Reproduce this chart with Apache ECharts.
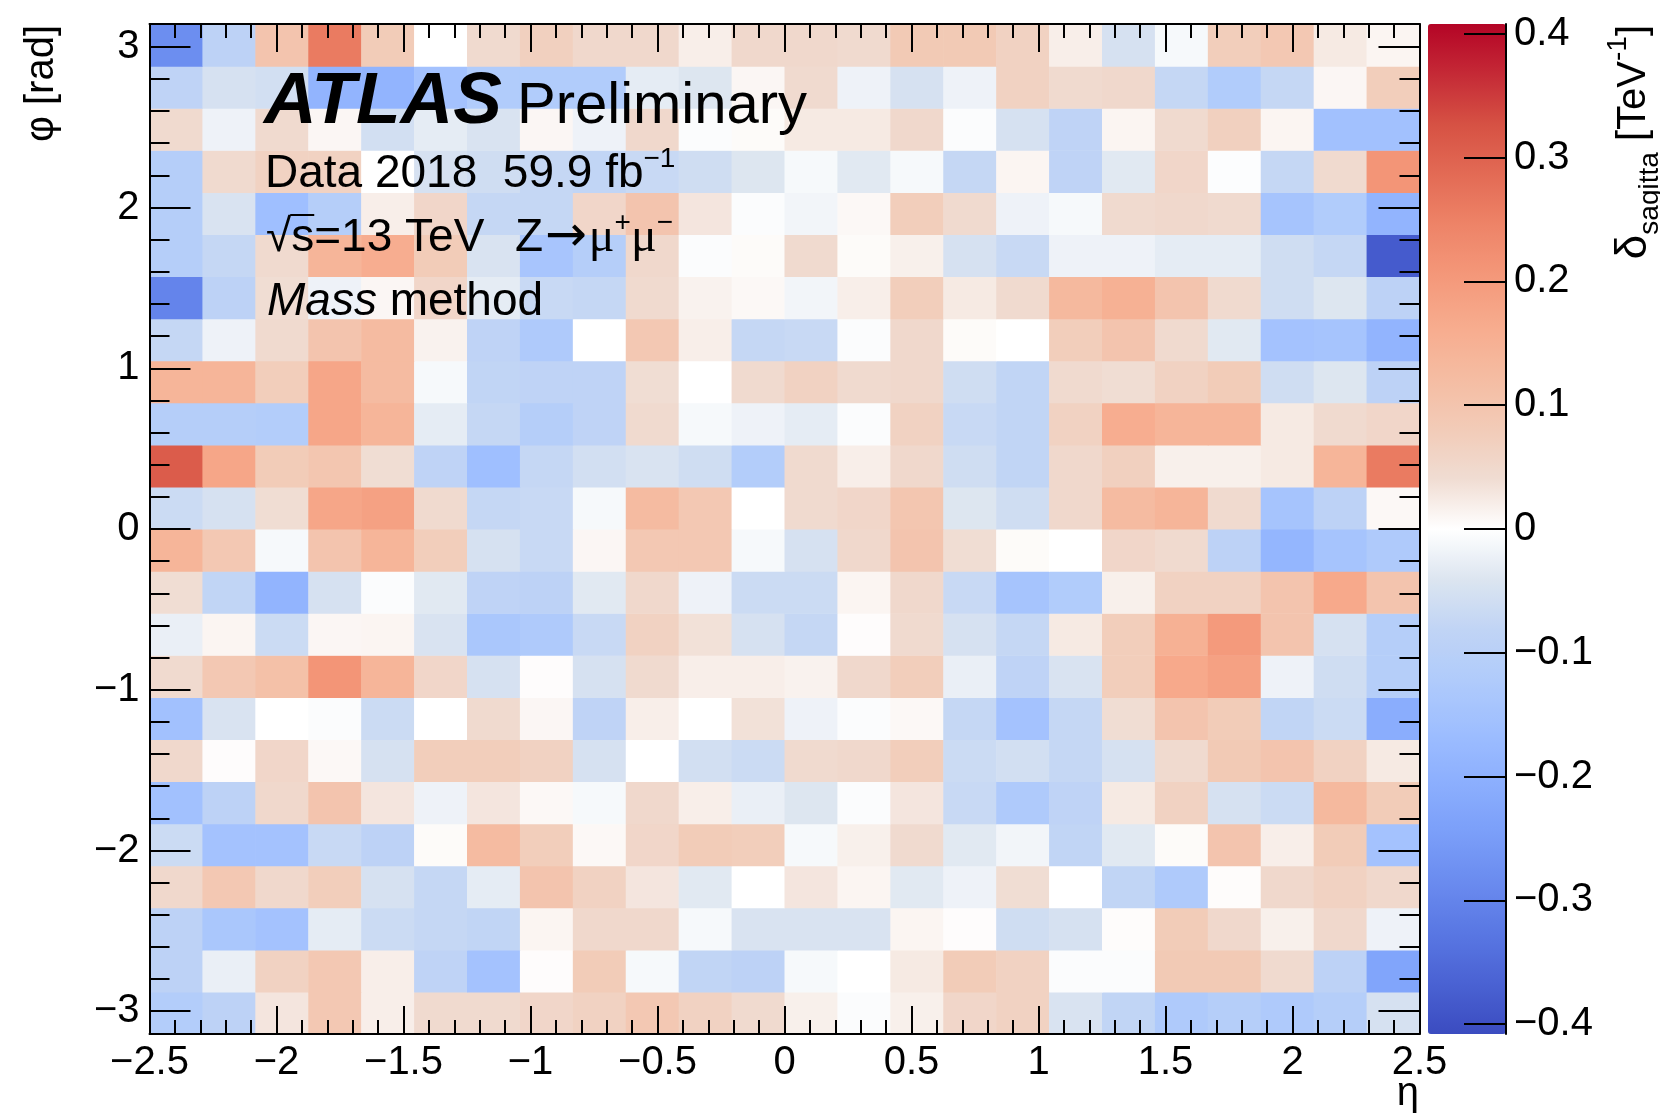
<!DOCTYPE html>
<html>
<head>
<meta charset="utf-8">
<title>Sagitta bias map, Z→μμ mass method</title>
<script src="https://cdn.jsdelivr.net/npm/echarts@6/dist/echarts.min.js"></script>
<style>
  html, body { margin: 0; padding: 0; background: #ffffff; }
  #chart { width: 1660px; height: 1115px; }
</style>
</head>
<body>
<div id="chart"></div>
<script>
// ---------------------------------------------------------------------------
// Binning: 24 bins in eta over [-2.5, 2.5], 24 bins in phi over [-pi, pi]
// ---------------------------------------------------------------------------
const ETA_MIN = -2.5;
const ETA_MAX = 2.5;
const N_ETA = 24;
const PHI_MIN = -Math.PI;
const PHI_MAX = Math.PI;
const N_PHI = 24;

// Colour scale range of delta_sagitta [TeV^-1]
const Z_MIN = -0.408;
const Z_MAX = 0.408;

// Tick values
const phiTickValues = [-3, -2, -1, 0, 1, 2, 3];
const zTickValues = [-0.4, -0.3, -0.2, -0.1, 0, 0.1, 0.2, 0.3, 0.4];

// delta_sagitta per (eta, phi) bin, one array per phi bin, eta bins from -2.5 to 2.5
const phiBin23 = [-0.28, -0.09, 0.10, 0.26, 0.08, 0.0, 0.045, 0.07, 0.05, 0.05, 0.02, 0.05, 0.05, 0.045, 0.085, 0.085, 0.065, 0.02, -0.05, -0.01, 0.075, 0.09, 0.025, 0.012];
const phiBin22 = [-0.085, -0.05, -0.055, -0.19, -0.19, -0.15, -0.12, -0.12, -0.12, -0.03, -0.04, 0.01, 0.045, -0.02, -0.05, -0.02, 0.065, 0.045, 0.05, -0.075, -0.12, -0.075, 0.01, 0.075];
const phiBin21 = [0.045, -0.02, 0.045, 0.01, -0.055, -0.03, -0.045, 0.01, -0.02, 0.05, -0.005, 0.005, 0.025, 0.025, 0.05, -0.005, -0.05, -0.085, 0.012, 0.045, 0.07, 0.012, -0.155, -0.155];
const phiBin20 = [-0.11, 0.045, 0.065, 0.065, 0.0, -0.05, -0.06, -0.075, -0.08, -0.07, -0.06, -0.04, -0.01, -0.035, -0.01, -0.075, 0.012, -0.085, -0.035, 0.055, -0.003, -0.075, 0.045, 0.21];
const phiBin19 = [-0.11, -0.045, -0.16, -0.11, 0.02, 0.055, -0.075, -0.075, 0.055, 0.1, 0.03, -0.005, -0.015, 0.008, 0.075, 0.045, -0.02, -0.01, 0.045, 0.05, 0.045, -0.145, -0.12, -0.19];
const phiBin18 = [-0.11, -0.075, 0.045, 0.14, 0.16, 0.08, -0.045, -0.14, -0.11, 0.05, -0.005, 0.005, 0.045, 0.005, 0.018, -0.05, -0.07, -0.02, -0.02, -0.03, -0.03, -0.06, -0.075, -0.38];
const phiBin17 = [-0.3, -0.09, 0.04, -0.02, 0.01, 0.055, -0.03, -0.07, -0.075, 0.045, 0.015, 0.008, -0.015, 0.02, 0.075, 0.025, 0.045, 0.13, 0.15, 0.1, 0.045, -0.06, -0.04, -0.09];
const phiBin16 = [-0.075, -0.02, 0.045, 0.1, 0.125, 0.015, -0.085, -0.125, 0.0, 0.09, 0.02, -0.075, -0.07, -0.005, 0.05, 0.005, 0.0, 0.075, 0.1, 0.045, -0.035, -0.15, -0.145, -0.19];
const phiBin15 = [0.14, 0.14, 0.075, 0.175, 0.125, -0.01, -0.08, -0.085, -0.085, 0.04, 0.0, 0.045, 0.065, 0.045, 0.05, -0.06, -0.08, 0.045, 0.04, 0.065, 0.08, -0.06, -0.04, -0.09];
const phiBin14 = [-0.11, -0.11, -0.115, 0.175, 0.14, -0.03, -0.075, -0.11, -0.085, 0.045, -0.01, -0.02, -0.03, -0.005, 0.065, -0.07, -0.08, 0.065, 0.16, 0.14, 0.14, 0.025, 0.045, 0.055];
const phiBin13 = [0.31, 0.175, 0.08, 0.095, 0.04, -0.085, -0.16, -0.075, -0.055, -0.045, -0.06, -0.115, 0.045, 0.02, 0.05, -0.06, -0.08, 0.05, 0.07, 0.018, 0.018, 0.025, 0.14, 0.26];
const phiBin12 = [-0.065, -0.05, 0.04, 0.175, 0.185, 0.045, -0.075, -0.07, -0.01, 0.125, 0.09, 0.0, 0.045, 0.055, 0.095, -0.04, -0.06, 0.05, 0.125, 0.14, 0.045, -0.145, -0.09, 0.008];
const phiBin11 = [0.14, 0.09, -0.01, 0.1, 0.14, 0.075, -0.05, -0.07, 0.01, 0.09, 0.09, -0.01, -0.05, 0.05, 0.1, 0.04, 0.005, 0.0, 0.055, 0.045, -0.09, -0.185, -0.145, -0.125];
const phiBin10 = [0.04, -0.08, -0.19, -0.05, -0.005, -0.035, -0.085, -0.09, -0.035, 0.05, -0.02, -0.065, -0.065, 0.012, 0.05, -0.07, -0.145, -0.12, 0.018, 0.065, 0.065, 0.1, 0.17, 0.1];
const phiBin09 = [-0.025, 0.012, -0.065, 0.01, 0.012, -0.045, -0.135, -0.125, -0.07, 0.065, 0.035, -0.05, -0.075, 0.003, 0.045, -0.05, -0.075, 0.025, 0.075, 0.15, 0.2, 0.1, -0.05, -0.11];
const phiBin08 = [0.045, 0.09, 0.11, 0.21, 0.14, 0.055, -0.05, 0.003, -0.05, 0.045, 0.02, 0.02, 0.015, 0.05, 0.075, -0.025, -0.085, -0.045, 0.075, 0.17, 0.185, -0.02, -0.06, -0.11];
const phiBin07 = [-0.155, -0.045, 0.0, -0.005, -0.065, 0.0, 0.045, 0.01, -0.085, 0.02, 0.0, 0.035, -0.02, -0.005, 0.008, -0.075, -0.15, -0.075, 0.04, 0.1, 0.08, -0.08, -0.065, -0.21];
const phiBin06 = [0.05, 0.003, 0.055, 0.008, -0.05, 0.075, 0.075, 0.065, -0.05, 0.0, -0.055, -0.065, 0.045, 0.05, 0.075, -0.065, -0.055, -0.075, -0.05, 0.045, 0.085, 0.1, 0.065, 0.025];
const phiBin05 = [-0.155, -0.09, 0.05, 0.1, 0.03, -0.02, 0.03, 0.008, -0.01, 0.05, 0.02, -0.025, -0.04, -0.005, 0.03, -0.07, -0.125, -0.085, 0.025, 0.065, -0.05, -0.065, 0.13, 0.08];
const phiBin04 = [-0.065, -0.15, -0.15, -0.07, -0.09, 0.005, 0.125, 0.075, 0.008, 0.055, 0.08, 0.075, -0.01, 0.018, 0.045, -0.035, -0.015, -0.08, -0.035, 0.005, 0.1, 0.02, 0.08, -0.15];
const phiBin03 = [0.05, 0.09, 0.05, 0.075, -0.05, -0.075, -0.03, 0.1, 0.065, 0.03, -0.035, 0.0, 0.03, 0.012, -0.035, -0.02, 0.04, 0.0, -0.08, -0.125, 0.004, 0.05, 0.065, 0.05];
const phiBin02 = [-0.09, -0.135, -0.15, -0.03, -0.065, -0.075, -0.08, 0.012, 0.05, 0.05, -0.01, -0.045, -0.045, -0.045, 0.012, 0.003, -0.06, -0.05, 0.004, 0.08, 0.05, 0.018, 0.05, -0.02];
const phiBin01 = [-0.09, -0.025, 0.065, 0.09, 0.02, -0.085, -0.15, 0.003, 0.08, -0.01, -0.08, -0.09, -0.01, 0.0, 0.025, 0.08, 0.065, -0.005, -0.005, 0.085, 0.085, 0.045, -0.09, -0.23];
const phiBin00 = [-0.115, -0.09, 0.03, 0.09, 0.02, 0.045, 0.045, 0.055, 0.065, 0.09, 0.065, 0.045, 0.018, -0.005, 0.018, 0.055, 0.065, -0.045, -0.08, -0.125, -0.11, -0.125, -0.11, -0.05];

// phi bins ordered from -pi upwards
const phiBins = [phiBin00, phiBin01, phiBin02, phiBin03, phiBin04, phiBin05, phiBin06, phiBin07,
                 phiBin08, phiBin09, phiBin10, phiBin11, phiBin12, phiBin13, phiBin14, phiBin15,
                 phiBin16, phiBin17, phiBin18, phiBin19, phiBin20, phiBin21, phiBin22, phiBin23];

// Diverging palette: blue -> white at zero -> red, evenly spaced over [Z_MIN, Z_MAX]
const PALETTE = [
  '#3b4cc0', '#4a62d3', '#5977e3', '#6a8bef', '#7b9ff9', '#8caffe', '#9ebeff',
  '#b0cbfb', '#c0d4f5', '#dce5f0', '#ffffff', '#f0dcd2', '#f2cbb7', '#f5bca2',
  '#f7ac8e', '#f4987a', '#ee8468', '#e36b55', '#d65244', '#c52a36', '#b40426'
];

// ---------------------------------------------------------------------------
// Cells: [etaLow, etaHigh, phiLow, phiHigh, value]
// ---------------------------------------------------------------------------
const etaStep = (ETA_MAX - ETA_MIN) / N_ETA;
const phiStep = (PHI_MAX - PHI_MIN) / N_PHI;
const cells = [];
phiBins.forEach((row, j) => {
  row.forEach((v, i) => {
    cells.push([ETA_MIN + i * etaStep, ETA_MIN + (i + 1) * etaStep,
                PHI_MIN + j * phiStep, PHI_MIN + (j + 1) * phiStep, v]);
  });
});

// ---------------------------------------------------------------------------
// Layout and styling
// ---------------------------------------------------------------------------
const FONT = '"Liberation Sans", Arial, Helvetica, sans-serif';
const PLOT = { left: 149.5, top: 24, width: 1270, height: 1010 };
const CBAR = { left: 1428, top: 24, width: 78, height: 1010 };

const lineStyle = { color: '#000', width: 2 };
const fmtNum = v => String(+Number(v).toFixed(3)).replace('-', '\u2212');

// minor phi ticks every 0.2 rad
const phiMinorTicks = [];
for (let k = -15; k <= 15; k++) {
  if (k % 5 !== 0) phiMinorTicks.push(+(k * 0.2).toFixed(1));
}

const labelStyle = { fontSize: 40, color: '#000', fontFamily: FONT };

function etaAxis(position, showLabel) {
  return {
    gridIndex: 0, type: 'value', position: position, min: ETA_MIN, max: ETA_MAX, interval: 0.5, z: 10,
    axisLine: { show: true, onZero: false, lineStyle: lineStyle },
    axisTick: { show: true, inside: true, length: 28, lineStyle: lineStyle },
    minorTick: { show: true, splitNumber: 5, length: 14, lineStyle: lineStyle },
    axisLabel: Object.assign({ show: showLabel, margin: 9, formatter: fmtNum }, labelStyle),
    splitLine: { show: false }, minorSplitLine: { show: false }
  };
}
function phiAxis(position, showLabel) {
  return {
    gridIndex: 0, type: 'value', position: position, min: PHI_MIN, max: PHI_MAX, z: 10,
    axisLine: { show: true, onZero: false, lineStyle: lineStyle },
    axisTick: { show: true, inside: true, length: 41, lineStyle: lineStyle, customValues: phiTickValues },
    axisLabel: Object.assign({ show: showLabel, margin: 10, padding: [6, 0, 0, 0], formatter: fmtNum,
                               customValues: phiTickValues }, labelStyle),
    splitLine: { show: false }
  };
}
function phiMinorAxis(position) {
  return {
    gridIndex: 0, type: 'value', position: position, min: PHI_MIN, max: PHI_MAX, z: 10,
    axisLine: { show: false, onZero: false },
    axisTick: { show: true, inside: true, length: 20, lineStyle: lineStyle, customValues: phiMinorTicks },
    axisLabel: { show: false },
    splitLine: { show: false }
  };
}

// text measuring for the radical bar over "s"
const measureCtx = document.createElement('canvas').getContext('2d');
function textWidth(str, font) { measureCtx.font = font; return measureCtx.measureText(str).width; }
const SQRT_X = 266;
const sqrtW = textWidth('\u221A', '46px ' + FONT);
const sW = textWidth('s', '46px ' + FONT);

const chart = echarts.init(document.getElementById('chart'), null, { renderer: 'canvas' });

chart.setOption({
  animation: false,
  backgroundColor: '#ffffff',
  grid: [
    { left: PLOT.left, top: PLOT.top, width: PLOT.width, height: PLOT.height, show: false },
    { left: CBAR.left, top: CBAR.top, width: CBAR.width, height: CBAR.height, show: false }
  ],
  xAxis: [
    etaAxis('bottom', true),
    etaAxis('top', false),
    { gridIndex: 1, type: 'value', min: 0, max: 1, show: false }
  ],
  yAxis: [
    phiAxis('left', true),
    phiAxis('right', false),
    phiMinorAxis('left'),
    phiMinorAxis('right'),
    {
      gridIndex: 1, type: 'value', position: 'right', min: Z_MIN, max: Z_MAX, z: 10,
      axisLine: { show: true, onZero: false, lineStyle: lineStyle },
      axisTick: { show: true, inside: true, length: 42, lineStyle: lineStyle, customValues: zTickValues },
      axisLabel: Object.assign({ show: true, margin: 8, padding: [6, 0, 0, 0], formatter: fmtNum,
                                 customValues: zTickValues }, labelStyle),
      splitLine: { show: false }
    }
  ],
  visualMap: {
    type: 'continuous',
    show: true,
    seriesIndex: 0,
    dimension: 4,
    min: Z_MIN,
    max: Z_MAX,
    orient: 'vertical',
    left: CBAR.left,
    top: CBAR.top,
    itemWidth: CBAR.width,
    itemHeight: CBAR.height,
    calculable: false,
    hoverLink: false,
    padding: 0,
    inRange: { color: PALETTE }
  },
  series: [{
    type: 'custom',
    xAxisIndex: 0,
    yAxisIndex: 0,
    z: 1,
    clip: true,
    encode: { x: [0, 1], y: [2, 3] },
    data: cells,
    renderItem: function (params, api) {
      const p0 = api.coord([api.value(0), api.value(3)]);
      const p1 = api.coord([api.value(1), api.value(2)]);
      return {
        type: 'rect',
        shape: { x: p0[0], y: p0[1], width: p1[0] - p0[0] + 0.6, height: p1[1] - p0[1] + 0.6 },
        style: { fill: api.visual('color') }
      };
    }
  }],
  graphic: [
    { type: 'text', x: 264, y: 102.5, z: 20,
      style: { text: 'ATLAS', fontFamily: FONT, fontSize: 73, fontWeight: 'bold', fontStyle: 'italic', fill: '#000',
               align: 'left', verticalAlign: 'middle', textAlign: 'left', textVerticalAlign: 'middle' } },
    { type: 'text', x: 517, y: 107, z: 20,
      style: { text: 'Preliminary', fontFamily: FONT, fontSize: 58, fill: '#000',
               align: 'left', verticalAlign: 'middle', textAlign: 'left', textVerticalAlign: 'middle' } },
    { type: 'text', x: 265, y: 174, z: 20,
      style: { text: 'Data 2018  59.9 fb{sup|\u22121}', fontFamily: FONT, fontSize: 46, lineHeight: 58, fill: '#000',
               align: 'left', verticalAlign: 'middle', textAlign: 'left', textVerticalAlign: 'middle',
               rich: { sup: { fontFamily: FONT, fontSize: 28, lineHeight: 28, verticalAlign: 'top', fill: '#000' } } } },
    { type: 'text', x: SQRT_X, y: 238, z: 20,
      style: { text: '\u221As=13 TeV  {z|Z}{ar|\u2192}{mu|\u03BC}{sup|+}{mu|\u03BC}{sup|\u2212}',
               fontFamily: FONT, fontSize: 46, lineHeight: 58, fill: '#000',
               align: 'left', verticalAlign: 'middle', textAlign: 'left', textVerticalAlign: 'middle',
               rich: {
                 z: { fontFamily: FONT, fontSize: 46, padding: [0, 0, 0, 5], fill: '#000' },
                 ar: { fontFamily: '"DejaVu Sans", ' + FONT, fontSize: 50, padding: [0, 2, 0, 2], fill: '#000' },
                 mu: { fontFamily: '"Liberation Serif", "DejaVu Serif", serif', fontSize: 48, fill: '#000' },
                 sup: { fontFamily: FONT, fontSize: 28, lineHeight: 28, verticalAlign: 'top', fill: '#000' }
               } } },
    { type: 'line', z: 20,
      shape: { x1: SQRT_X + sqrtW - 1, y1: 215, x2: SQRT_X + sqrtW + sW, y2: 215 },
      style: { stroke: '#000', lineWidth: 2 } },
    { type: 'text', x: 267, y: 302, z: 20,
      style: { text: '{i|Mass} method', fontFamily: FONT, fontSize: 46, fill: '#000',
               align: 'left', verticalAlign: 'middle', textAlign: 'left', textVerticalAlign: 'middle',
               rich: { i: { fontFamily: FONT, fontSize: 46, fontStyle: 'italic', fill: '#000' } } } },
    // axis titles
    { type: 'text', x: 42, y: 25, rotation: Math.PI / 2, z: 20,
      style: { text: '\u03C6 [rad]', fontFamily: FONT, fontSize: 40, fill: '#000',
               align: 'right', verticalAlign: 'middle', textAlign: 'right', textVerticalAlign: 'middle' } },
    { type: 'text', x: 1419, y: 1094, z: 20,
      style: { text: '\u03B7', fontFamily: FONT, fontSize: 40, fill: '#000',
               align: 'right', verticalAlign: 'middle', textAlign: 'right', textVerticalAlign: 'middle' } },
    { type: 'text', x: 1634, y: 25, rotation: Math.PI / 2, z: 20,
      style: { text: '{d|\u03B4}{sub|sagitta} [TeV{sup|-1}]', fontFamily: FONT, fontSize: 40, lineHeight: 60, fill: '#000',
               align: 'right', verticalAlign: 'middle', textAlign: 'right', textVerticalAlign: 'middle',
               rich: {
                 d: { fontFamily: FONT, fontSize: 44, fill: '#000' },
                 sub: { fontFamily: FONT, fontSize: 28, lineHeight: 28, verticalAlign: 'bottom', fill: '#000' },
                 sup: { fontFamily: FONT, fontSize: 28, lineHeight: 28, verticalAlign: 'top', fill: '#000' }
               } } }
  ]
});
</script>
</body>
</html>
